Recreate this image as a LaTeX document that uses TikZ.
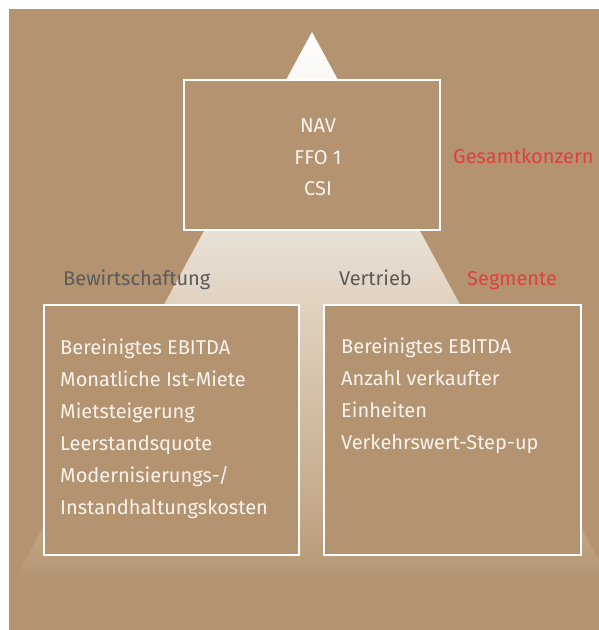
\documentclass[tikz,border=0pt]{standalone}
\usepackage{fontspec}
\setmainfont{Fira Sans}
\definecolor{bg}{HTML}{B39370}
\definecolor{cZ}{HTML}{B99C7A}
\definecolor{cA}{HTML}{C5AC8D}
\definecolor{cB}{HTML}{E1D3C1}
\definecolor{cC}{HTML}{E9E1D7}
\definecolor{cD}{HTML}{FAF7F3}
\definecolor{boxtxt}{HTML}{F8F3EE}
\definecolor{labgray}{HTML}{5B5B5B}
\definecolor{labred}{HTML}{E2403C}
\pgfdeclareverticalshading{trishade}{100bp}{color(0bp)=(bg); color(25.6bp)=(bg); color(27.7bp)=(cZ); color(33.1bp)=(cA); color(51bp)=(cB); color(57.3bp)=(cC); color(70.7bp)=(cD); color(75bp)=(white); color(100bp)=(white)}
\tikzset{
  box/.style={draw=white, line width=1.6pt, fill=bg, inner sep=0pt, anchor=north west},
  boxtext/.style={text=boxtxt, font=\fontsize{20pt}{24pt}\selectfont, inner sep=0pt, anchor=base west},
  toptext/.style={text=boxtxt, font=\fontsize{20pt}{24pt}\selectfont, inner sep=0pt, anchor=base},
  graylab/.style={text=labgray, font=\fontsize{20pt}{24pt}\selectfont, inner sep=0pt, anchor=base west},
  redlab/.style={text=labred, font=\fontsize{20pt}{24pt}\selectfont, inner sep=0pt, anchor=base west}
}
\begin{document}
\begin{tikzpicture}[x=1pt,y=-1pt]
\useasboundingbox (0,0) rectangle (599,630);
\fill[bg] (9,9) rectangle (599,630);
\begin{scope}
  \clip (9,9) rectangle (599,630);
  \shade[shading=trishade] (312,32) -- (9,590) -- (615,590) -- cycle;
\end{scope}
% boxes
\node[box, minimum width=256pt, minimum height=150pt] (topbox) at (183,79) {};
\node[box, minimum width=255pt, minimum height=250pt] (leftbox) at (43,304) {};
\node[box, minimum width=257pt, minimum height=250pt] (rightbox) at (323,304) {};
% top box text
\node[toptext] (nav) at (318,132) {NAV};
\node[toptext] (ffo) at (318,164) {FFO 1};
\node[toptext] (csi) at (318,195) {CSI};
% left box text
\foreach \t [count=\i from 0] in {Bereinigtes EBITDA, Monatliche Ist-Miete, Mietsteigerung, Leerstandsquote, Modernisierungs-/, Instandhaltungskosten}
  \node[boxtext] (l\i) at (60,354+32*\i) {\t};
% right box text
\foreach \t [count=\i from 0] in {Bereinigtes EBITDA, Anzahl verkaufter, Einheiten, Verkehrswert-Step-up}
  \node[boxtext] (r\i) at (341,353+32.3*\i) {\t};
% labels
\node[graylab] (bew) at (63,285) {Bewirtschaftung};
\node[graylab] (ver) at (339,285) {Vertrieb};
\node[redlab] (seg) at (467,285) {Segmente};
\node[redlab] (ges) at (453,163) {Gesamtkonzern};
\end{tikzpicture}
\end{document}
